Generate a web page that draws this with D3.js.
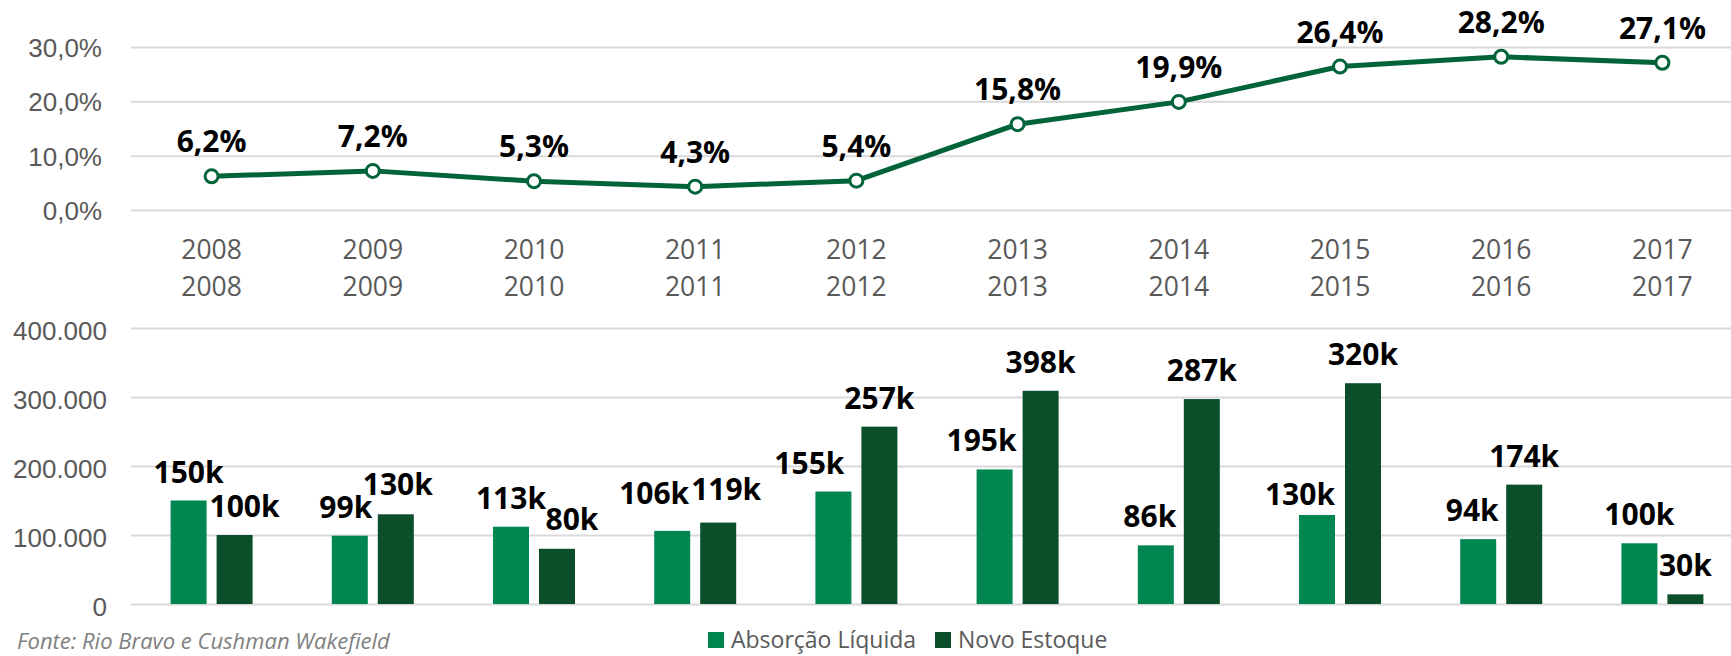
<!DOCTYPE html>
<html>

<head>
	<title>Absorção e Novo Estoque</title>
	<script src="https://cdn.jsdelivr.net/npm/d3@7/dist/d3.min.js"></script>
	<style>
		body {
			margin: 0;
			background: #fff;
		}

		svg {
			font-family: "Open Sans", sans-serif;
		}

		.grid line {
			stroke: #d9d9d9;
			stroke-width: 2px;
		}

		.grid text {
			fill: #595959;
			font-size: 26px;
		}

		.lbl {
			font-weight: bold;
			fill: #000;
			text-anchor: middle;
		}
	</style>
</head>

<body>
	<svg id="chart" width="1731" height="656"></svg>

	<script type="text/javascript">
		// data
		var years = ['2008', '2009', '2010', '2011', '2012', '2013', '2014', '2015', '2016', '2017'];
		var taxa = [0.062, 0.072, 0.053, 0.043, 0.054, 0.158, 0.199, 0.264, 0.282, 0.271];
		var absorcao = [150000, 99000, 112000, 106000, 163000, 195000, 85000, 129000, 94000, 88000];
		var estoque = [100000, 130000, 80000, 118000, 257000, 309000, 297000, 320000, 173000, 14000];
		// label texts as printed on the original
		var absorcaoLabels = ['150k', '99k', '113k', '106k', '155k', '195k', '86k', '130k', '94k', '100k'];
		var estoqueLabels = ['100k', '130k', '80k', '119k', '257k', '398k', '287k', '320k', '174k', '30k'];
		var pctTicks = [0, 0.1, 0.2, 0.3];
		var areaTicks = [0, 100000, 200000, 300000, 400000];
		var series = ['Absorção Líquida', 'Novo Estoque'];
		var colors = ['#008751', '#0a4e2a'];

		// manual label nudges (dx, dy) the original had
		var absorcaoNudge = [[0, 0], [-4, 0], [0, 0], [-18, -9], [-24, 0], [-13, 0], [-6, 0], [-17, 8], [-6, 0], [0, 0]];
		var estoqueNudge = [[10, 0], [2, -1], [15, -1], [8, -5], [0, 0], [0, 0], [0, 0], [0, 0], [0, 0], [0, 0]];

		var svg = d3.select('#chart'),
			width = +svg.attr('width');

		var br = d3.formatLocale({ decimal: ',', thousands: '.', grouping: [3], currency: ['R$', ''] });

		var x = d3.scaleBand()
			.domain(years)
			.range([131, 1743]);

		// ---------- top: line chart ----------
		var yTop = d3.scaleLinear()
			.domain([0, 0.30])
			.range([210, 47]);

		var gTop = svg.append('g')
			.attr('class', 'grid')
			.attr('transform', 'translate(131,0)')
			.call(d3.axisLeft(yTop)
				.tickValues(pctTicks)
				.tickSize(-(width - 131))
				.tickPadding(29)
				.tickFormat(br.format('.1%')));
		gTop.select('.domain').remove();
		gTop.selectAll('text').attr('dy', '0.36em');

		var cx = d => x(d) + x.bandwidth() / 2;

		var line = d3.line()
			.x((d, i) => cx(years[i]))
			.y(d => yTop(d));

		svg.append('path')
			.datum(taxa)
			.attr('d', line)
			.attr('fill', 'none')
			.attr('stroke', '#00633a')
			.attr('stroke-width', 5)
			.attr('stroke-linejoin', 'round');

		svg.selectAll('.pt')
			.data(taxa)
			.enter()
			.append('circle')
			.attr('class', 'pt')
			.attr('cx', (d, i) => cx(years[i]))
			.attr('cy', d => yTop(d))
			.attr('r', 6.5)
			.attr('fill', '#fff')
			.attr('stroke', '#00633a')
			.attr('stroke-width', 3);

		svg.selectAll('.pctlbl')
			.data(taxa)
			.enter()
			.append('text')
			.attr('class', 'lbl')
			.attr('font-size', 30)
			.attr('x', (d, i) => cx(years[i]))
			.attr('y', d => yTop(d) - 24)
			.text(d => br.format('.1%')(d));

		// year labels (two rows)
		var yr = svg.append('g').selectAll('text')
			.data(years)
			.enter()
			.append('text')
			.attr('text-anchor', 'middle')
			.attr('font-size', 26.5)
			.attr('fill', '#595959');
		yr.append('tspan').attr('x', d => cx(d)).attr('y', 259).text(d => d);
		yr.append('tspan').attr('x', d => cx(d)).attr('y', 296).text(d => d);

		// ---------- bottom: bar chart ----------
		var yBot = d3.scaleLinear()
			.domain([0, 400000])
			.range([604, 328]);

		var gBot = svg.append('g')
			.attr('class', 'grid')
			.attr('transform', 'translate(131,0)')
			.call(d3.axisLeft(yBot)
				.tickValues(areaTicks)
				.tickSize(-(width - 131))
				.tickPadding(24)
				.tickFormat(br.format(',.0f')));
		gBot.select('.domain').remove();
		gBot.selectAll('text').attr('dy', '0.45em');

		var xIn = d3.scaleBand()
			.domain([0, 1])
			.range([x.bandwidth() / 2 - 41, x.bandwidth() / 2 + 41])
			.paddingInner(0.2174);

		var sets = [
			{ vals: absorcao, labels: absorcaoLabels, nudge: absorcaoNudge },
			{ vals: estoque, labels: estoqueLabels, nudge: estoqueNudge }
		];

		sets.forEach((s, k) => {
			svg.append('g')
				.selectAll('rect')
				.data(s.vals)
				.enter()
				.append('rect')
				.attr('x', (d, i) => x(years[i]) + xIn(k))
				.attr('y', d => yBot(d))
				.attr('width', xIn.bandwidth())
				.attr('height', d => yBot(0) - yBot(d))
				.attr('fill', colors[k]);

			svg.append('g')
				.selectAll('text')
				.data(s.vals)
				.enter()
				.append('text')
				.attr('class', 'lbl')
				.attr('font-size', 30)
				.attr('x', (d, i) => x(years[i]) + xIn(k) + xIn.bandwidth() / 2 + s.nudge[i][0])
				.attr('y', (d, i) => yBot(d) - 18 + s.nudge[i][1])
				.text((d, i) => s.labels[i]);
		});

		// source note
		svg.append('text')
			.attr('x', 17)
			.attr('y', 649)
			.attr('font-size', 22)
			.attr('font-style', 'italic')
			.attr('fill', '#808080')
			.text('Fonte: Rio Bravo e Cushman Wakefield');

		// legend
		var legend = svg.append('g')
			.attr('transform', 'translate(708,632)');
		var lx = [0, 227];
		series.forEach((name, k) => {
			legend.append('rect')
				.attr('x', lx[k])
				.attr('y', 0)
				.attr('width', 16)
				.attr('height', 16)
				.attr('fill', colors[k]);
			legend.append('text')
				.attr('x', lx[k] + 23)
				.attr('y', 16)
				.attr('font-size', 23)
				.attr('fill', '#595959')
				.text(name);
		});
	</script>
</body>

</html>
